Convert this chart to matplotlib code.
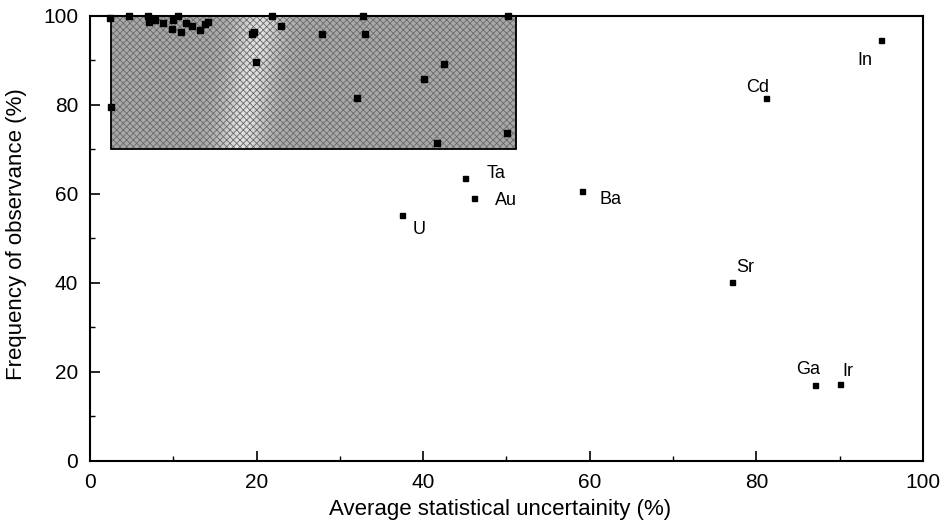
import numpy as np
import matplotlib
matplotlib.use("Agg")
import matplotlib.pyplot as plt
from matplotlib.patches import Rectangle

plt.rcParams['font.family'] = ['Liberation Sans', 'DejaVu Sans']
plt.rcParams['hatch.linewidth'] = 0.6

# unlabeled points (inside shaded region)
cluster_x = [2.4, 2.5, 4.7, 7.0, 10.6, 21.9, 32.8, 50.2, 7.1, 7.8, 8.8, 9.8, 10.0,
             10.9, 11.5, 12.2, 13.2, 13.8, 14.2, 19.5, 19.7, 19.9, 22.9, 27.9,
             33.0, 32.0, 40.1, 42.5, 41.7, 50.1]
cluster_y = [99.6, 79.5, 100, 100, 100, 100, 100, 100, 98.7, 99.0, 98.5, 97.0, 99.1,
             96.5, 98.5, 97.8, 96.9, 98.2, 98.7, 96.0, 96.3, 89.6, 97.8, 96.0,
             95.9, 81.5, 85.8, 89.2, 71.4, 73.8]

# labelled elements
elements = ["Ta", "Au", "Ba", "U", "In", "Cd", "Sr", "Ga", "Ir"]
elem_x = [45.0, 46.1, 59.1, 37.5, 94.9, 81.2, 77.1, 87.0, 90.0]
elem_y = [63.5, 59.0, 60.7, 55.3, 94.6, 81.5, 40.3, 17.1, 17.2]
# label offsets (points) and alignment
label_dx = [15.6, 15.0, 12.7, 7.4, -11.2, -6.6, 2.7, -4.5, 2.2]
label_dy = [3.8, -1.2, -6.5, -10.8, -14.9, 7.9, 9.9, 10.8, 9.1]
label_ha = ['left', 'left', 'left', 'left', 'center', 'center', 'left', 'center', 'left']

region_x = (2.5, 51.2)
region_y = (70, 100)

fig = plt.figure(figsize=(9.43, 5.26), dpi=100)
ax = fig.add_axes([0.0954, 0.1236, 0.8834, 0.846])

# shaded region: grey tone with a lighter diffuse streak, stippled with a hatch
nx, ny = 400, 60
xr = np.linspace(region_x[0], region_x[1], nx)
yr = np.linspace(0, 1, ny)[:, None]
centre = 20.5 - 2.5 * (1 - yr)
light = np.exp(-((xr[None, :] - centre) / 2.8) ** 2)
img = 0.66 + 0.22 * light
ax.imshow(img, cmap='gray', vmin=0, vmax=1,
          extent=[region_x[0], region_x[1], region_y[0], region_y[1]],
          aspect='auto', interpolation='bilinear', origin='lower', zorder=1)
ax.add_patch(Rectangle((region_x[0], region_y[0]), region_x[1] - region_x[0], region_y[1] - region_y[0],
                       fill=False, hatch='xxxxx', edgecolor='#6a6a6a', linewidth=0, zorder=1.5))
ax.add_patch(Rectangle((region_x[0], region_y[0]), region_x[1] - region_x[0], region_y[1] - region_y[0],
                       fill=False, edgecolor='black', linewidth=1.3, zorder=2))
ax.set_xlim(0, 100)
ax.set_ylim(0, 100)

ax.plot(cluster_x, cluster_y, 's', color='black', ms=4.2, clip_on=False, zorder=3)
ax.plot(elem_x, elem_y, 's', color='black', ms=3.6, clip_on=False, zorder=3)
for name, x, y, dx, dy, ha in zip(elements, elem_x, elem_y, label_dx, label_dy, label_ha):
    ax.annotate(name, (x, y), xytext=(dx, dy), textcoords='offset points',
                fontsize=13, ha=ha, va='center')

ax.set_xticks([0, 20, 40, 60, 80, 100])
ax.set_yticks([0, 20, 40, 60, 80, 100])
ax.set_xticks(np.arange(10, 100, 10), minor=True)
ax.set_yticks(np.arange(10, 100, 10), minor=True)
ax.tick_params(which='major', direction='in', length=7, width=1.2, labelsize=15)
ax.tick_params(axis='x', which='major', pad=9)
ax.tick_params(axis='y', which='major', pad=8.5)
ax.tick_params(which='minor', direction='in', length=3.5, width=1.0)
for s in ax.spines.values():
    s.set_linewidth(1.5)

ax.set_xlabel("Average statistical uncertainity (%)", fontsize=16)
ax.set_ylabel("Frequency of observance (%)", fontsize=16)
ax.xaxis.set_label_coords(0.4928, -0.085)
ax.yaxis.set_label_coords(-0.0756, 0.509)

fig.savefig("out.png", dpi=100)
